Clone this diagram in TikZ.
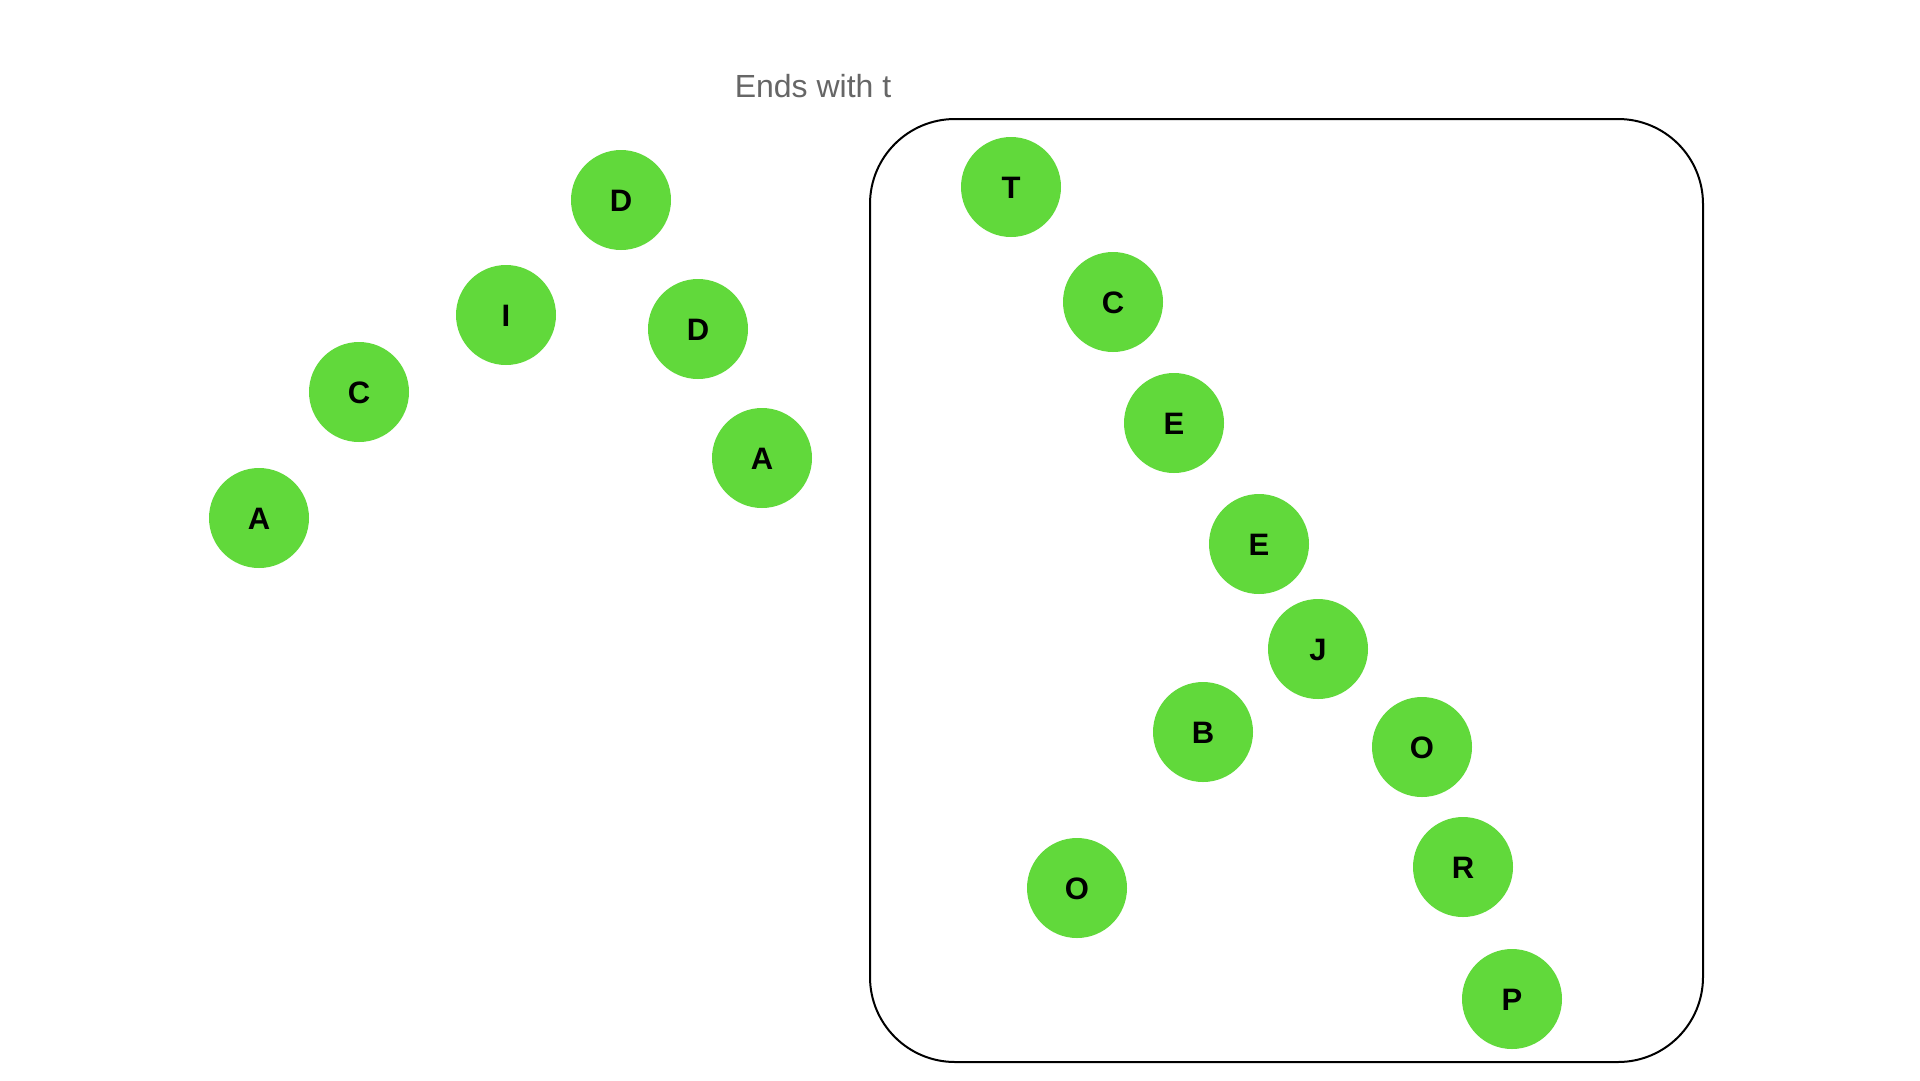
\documentclass[tikz,border=0pt]{standalone}
\usepackage{fontspec}
\setmainfont{Liberation Sans}
\definecolor{nodegreen}{RGB}{97,217,59}
\definecolor{titlegray}{RGB}{102,102,102}
\tikzset{
  letter/.style={circle, fill=nodegreen, draw=none, minimum size=100pt, inner sep=0pt,
    font=\fontsize{31}{31}\selectfont\bfseries, text=black, text height=22pt, text depth=0pt},
  frame/.style={draw=black, line width=2pt, rounded corners=85pt},
  title/.style={font=\fontsize{32}{32}\selectfont, text=titlegray, inner sep=0pt, text height=23pt, text depth=0pt}
}
\begin{document}
\begin{tikzpicture}[x=1pt,y=-1pt]
\useasboundingbox (0,0) rectangle (1920,1080);
\fill[white] (0,0) rectangle (1920,1080);
\node[title] (ttl) at (813,86) {Ends with t};
\draw[frame] (870,119) rectangle (1703,1062);
% left group
\node[letter] (d1) at (621,200) {D};
\node[letter] (i)  at (506,315) {I};
\node[letter] (d2) at (698,329) {D};
\node[letter] (c1) at (359,392) {C};
\node[letter] (a1) at (762,458) {A};
\node[letter] (a2) at (259,518) {A};
% inside the frame
\node[letter] (t)  at (1011,187) {T};
\node[letter] (c2) at (1113,302) {C};
\node[letter] (e1) at (1174,423) {E};
\node[letter] (e2) at (1259,544) {E};
\node[letter] (j)  at (1318,649) {J};
\node[letter] (b)  at (1203,732) {B};
\node[letter] (o1) at (1422,747) {O};
\node[letter] (o2) at (1077,888) {O};
\node[letter] (r)  at (1463,867) {R};
\node[letter] (p)  at (1512,999) {P};
\end{tikzpicture}
\end{document}
